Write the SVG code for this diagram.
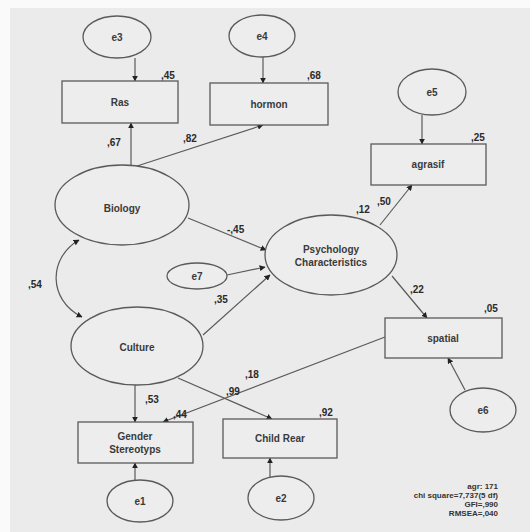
<svg xmlns="http://www.w3.org/2000/svg" width="530" height="532" viewBox="0 0 530 532">
<style>
.n{fill:#ededed;stroke:#5a5a5a;stroke-width:1.3}
.t{font-family:"Liberation Sans",Arial,sans-serif;font-weight:bold;font-size:10px;fill:#3a3a3a;text-anchor:middle}
.l{font-family:"Liberation Sans",Arial,sans-serif;font-weight:bold;font-size:10px;fill:#2a2a2a}
.s{font-family:"Liberation Sans",Arial,sans-serif;font-weight:bold;font-size:8px;fill:#333;text-anchor:end}
.c{fill:none;stroke:#5a5a5a;stroke-width:1.2}
</style>
<defs>
<marker id="a" viewBox="0 0 10 10" refX="9" refY="5" markerWidth="6" markerHeight="6" orient="auto-start-reverse" markerUnits="userSpaceOnUse">
<path d="M0,0 L10,5 L0,10 z" fill="#222"/>
</marker>
</defs>
<rect x="0" y="0" width="530" height="532" fill="#fafafa"/>
<rect x="10" y="8" width="520" height="524" fill="#ebebeb"/>
<g id="connectors">
<line class="c" x1="135" y1="58" x2="135" y2="81" marker-end="url(#a)"/>
<line class="c" x1="263" y1="57" x2="263" y2="83" marker-end="url(#a)"/>
<line class="c" x1="422" y1="115" x2="422" y2="144" marker-end="url(#a)"/>
<line class="c" x1="131" y1="166" x2="131" y2="123" marker-end="url(#a)"/>
<line class="c" x1="134" y1="167" x2="263" y2="125" marker-end="url(#a)"/>
<line class="c" x1="188" y1="218" x2="266" y2="250" marker-end="url(#a)"/>
<line class="c" x1="227" y1="275" x2="265" y2="267" marker-end="url(#a)"/>
<line class="c" x1="203" y1="335" x2="270" y2="275" marker-end="url(#a)"/>
<path class="c" d="M79,240 C48,258 48,300 82,317" marker-start="url(#a)" marker-end="url(#a)"/>
<line class="c" x1="380" y1="225" x2="412" y2="185" marker-end="url(#a)"/>
<line class="c" x1="392" y1="276" x2="427" y2="318" marker-end="url(#a)"/>
<line class="c" x1="465" y1="390" x2="448" y2="358" marker-end="url(#a)"/>
<line class="c" x1="135" y1="385" x2="135" y2="422" marker-end="url(#a)"/>
<line class="c" x1="385" y1="337" x2="163" y2="422" marker-end="url(#a)"/>
<line class="c" x1="178" y1="378" x2="272" y2="419" marker-end="url(#a)"/>
<line class="c" x1="135" y1="480" x2="135" y2="463" marker-end="url(#a)"/>
<line class="c" x1="270" y1="477" x2="270" y2="458" marker-end="url(#a)"/>
</g>
<g id="e3"><ellipse class="n" cx="117" cy="37" rx="34" ry="21"/><text class="t" x="117" y="41">e3</text></g>
<g id="e4"><ellipse class="n" cx="262" cy="36" rx="33" ry="21"/><text class="t" x="262" y="40">e4</text></g>
<g id="e5"><ellipse class="n" cx="432" cy="92" rx="34" ry="23"/><text class="t" x="432" y="96">e5</text></g>
<g id="Ras"><rect class="n" x="62" y="81" width="116" height="42"/><text class="t" x="120" y="106">Ras</text></g>
<g id="hormon"><rect class="n" x="210" y="83" width="118" height="42"/><text class="t" x="269" y="108">hormon</text></g>
<g id="agrasif"><rect class="n" x="371" y="144" width="115" height="41"/><text class="t" x="428" y="168">agrasif</text></g>
<g id="Biology"><ellipse class="n" cx="122" cy="205" rx="67" ry="40"/><text class="t" x="122" y="212">Biology</text></g>
<g id="Psychology"><ellipse class="n" cx="331" cy="255" rx="66" ry="40"/><text class="t" x="331" y="253">Psychology</text><text class="t" x="331" y="266">Characteristics</text></g>
<g id="e7"><ellipse class="n" cx="197" cy="276" rx="30" ry="13"/><text class="t" x="197" y="280">e7</text></g>
<g id="Culture"><ellipse class="n" cx="137" cy="346" rx="66" ry="39"/><text class="t" x="137" y="351">Culture</text></g>
<g id="spatial"><rect class="n" x="385" y="318" width="117" height="40"/><text class="t" x="443" y="342">spatial</text></g>
<g id="e6"><ellipse class="n" cx="483" cy="410" rx="33" ry="22"/><text class="t" x="483" y="414">e6</text></g>
<g id="Gender"><rect class="n" x="78" y="422" width="115" height="41"/><text class="t" x="135" y="440">Gender</text><text class="t" x="135" y="453">Stereotyps</text></g>
<g id="ChildRear"><rect class="n" x="223" y="419" width="114" height="39"/><text class="t" x="280" y="442">Child Rear</text></g>
<g id="e1"><ellipse class="n" cx="140" cy="501" rx="33" ry="21"/><text class="t" x="140" y="505">e1</text></g>
<g id="e2"><ellipse class="n" cx="281" cy="498" rx="33" ry="22"/><text class="t" x="281" y="502">e2</text></g>
<g id="labels">
<text class="l" x="161" y="79">,45</text>
<text class="l" x="307" y="79">,68</text>
<text class="l" x="471" y="141">,25</text>
<text class="l" x="107" y="146">,67</text>
<text class="l" x="183" y="142">,82</text>
<text class="l" x="227" y="233">-,45</text>
<text class="l" x="356" y="213">,12</text>
<text class="l" x="377" y="205">,50</text>
<text class="l" x="28" y="288">,54</text>
<text class="l" x="214" y="303">,35</text>
<text class="l" x="410" y="293">,22</text>
<text class="l" x="484" y="312">,05</text>
<text class="l" x="145" y="403">,53</text>
<text class="l" x="173" y="418">,44</text>
<text class="l" x="226" y="395">,99</text>
<text class="l" x="245" y="378">,18</text>
<text class="l" x="319" y="416">,92</text>
</g>
<g id="stats">
<text class="s" x="498" y="489">agr: 171</text>
<text class="s" x="498" y="498">chi square=7,737(5 df)</text>
<text class="s" x="498" y="507">GFI=,990</text>
<text class="s" x="498" y="516">RMSEA=,040</text>
</g>
</svg>
